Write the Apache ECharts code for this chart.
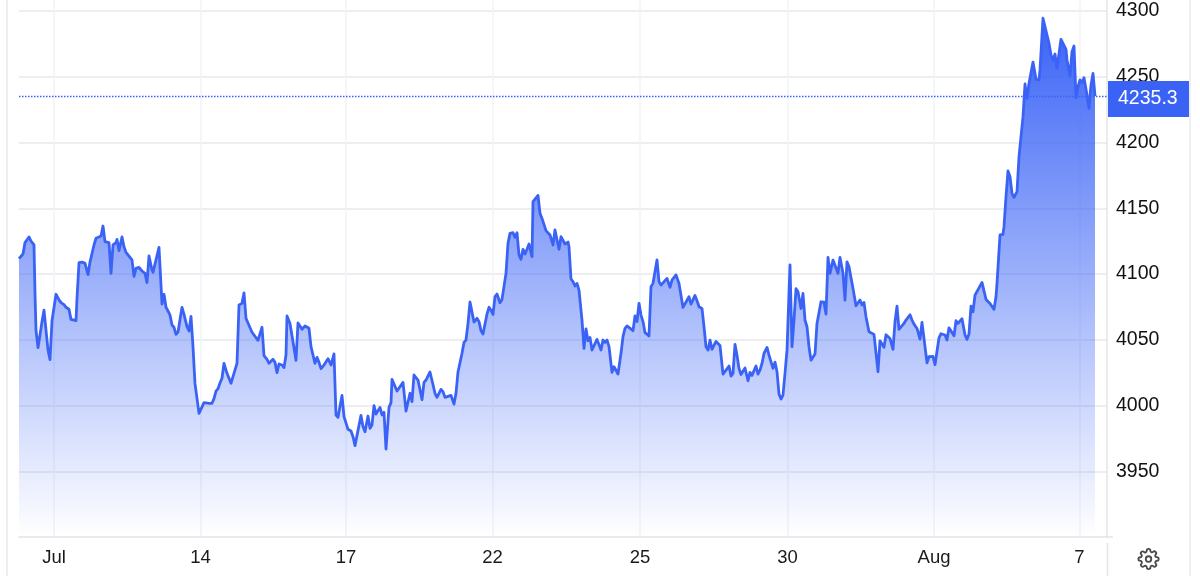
<!DOCTYPE html>
<html>
<head>
<meta charset="utf-8">
<style>html,body{margin:0;padding:0;background:#fff}#c{width:1200px;height:576px}</style>
<script src="https://cdn.jsdelivr.net/npm/echarts@6/dist/echarts.min.js"></script>
</head>
<body>
<div id="c"></div>
<script>
const timeIndex = [0,2,4,6,8,10,12,15,16,17,19,21,23,25,27,29,31,33,35,37,40,42,45,47,50,52,54,57,58,60,63,66,69,71,73,75,77,79,82,84,86,88,90,92,94,97,98,100,103,105,107,109,113,115,117,120,123,126,128,130,133,134,136,140,143,145,147,149,151,153,155,157,159,163,165,168,170,172,174,176,178,180,182,185,187,190,193,195,197,199,201,203,205,208,212,214,216,218,220,223,225,227,229,231,233,235,239,243,245,248,250,254,256,258,260,263,265,267,268,271,273,277,279,283,286,290,292,296,298,300,302,305,307,309,312,314,315,317,319,323,325,329,332,334,336,
342,344,346,349,351,353,355,357,359,361,363,365,367,370,372,373,378,380,384,387,389,391,393,395,397,399,403,405,407,411,413,416,418,420,422,424,426,428,432,435,437,439,441,443,445,447,449,451,455,458,460,462,464,466,468,470,472,474,476,478,481,483,485,487,489,491,494,496,498,500,502,504,506,508,510,512,513,514,516,519,521,523,527,531,534,536,538,540,542,546,549,550,552,554,556,558,560,563,565,567,569,571,573,578,580,582,584,586,588,590,593,595,597,599,602,604,606,608,610,614,616,618,620,622,624,626,628,630,632,634,638,640,642,644,648,651,653,657,660,
664,670,672,676,679,680,683,685,687,689,691,693,697,699,701,704,710,712,714,716,718,720,722,726,729,731,733,737,739,741,743,745,748,750,754,756,758,760,762,764,766,768,771,773,775,777,779,782,784,786,788,790,792,796,798,800,802,805,807,809,811,814,819,821,824,826,828,830,834,837,839,841,843,845,847,850,852,855,859,861,865,867,871,874,876,878,880,882,885,887,889,891,893,895,898,901,903,908,910,914,916,920,922,926,928,930,932,935,937,939,943,946,948,950,952,954,956,958,963,967,971,975,977,
978,981,984,985,987,989,991,993,995,998,1000,1002,1004,1006,1008,1010,1014,1017,1020,1021,1024,1026,1030,1032,1034,1036,1038,1042,1047,1048,1051,1053,1055,1057,1059,1061,1063,1065,1068,1070,1072,1074,1076];
const prices = [4111.7,4112.2,4115.2,4123.9,4125.4,4128.2,4125.1,4122.1,4085.3,4057.4,4044,4053.6,4063.8,4072.6,4071.9,4042.2,4034.9,4064.5,4065.5,4084.6,4080.3,4078.2,4076.7,4074.7,4073.2,4065.5,4064.5,4064.5,4081.5,4108.6,4109.1,4108.1,4099.5,4109.1,4108.9,4122.1,4127.2,4127.9,4128.9,4136.5,4124.6,4123.3,4123.9,4100.5,4122.1,4123.9,4126.4,4117.8,4128.2,4120.8,4116.5,4117,4110.7,4098.2,4104.3,4105.1,4102.3,4100.5,4093.4,4113.7,4103.1,4101.3,4101.8,4120.3,4077.2,4084.6,4074.7,4071.9,4068.8,4061.2,4059.5,4054.1,4055.9,4074.7,4069.3,4060,4056.7,4067.8,4044.8,4016.6,4016.4,3994,3993.8,4002.2,4002.9,4001.7,4001.7,4005.2,4011,4012.8,4017.1,4020.7,4032.1,4024.5,4016.9,4022,4022.7,4032.1,4076.4,4077.7,4085.6,4066.3,4062.8,4062.5,4055.7,4055.9,4049.6,4059.5,4037.9,4035.1,4032.1,4035.1,4032.8,4025,4031.6,4030.8,4028.8,4038.4,4068.1,4062.3,4061.5,4034.4,4062.8,4058,4060.5,4058.7,4044.8,4032.1,4036.6,4032.8,4028,4030.8,4031.6,4035.6,4030.8,4030,4039.2,3992.8,3991,4007.7,3991.5,3981.9,3980.6,3976.3,3969.5,
3992.5,3983.9,3980.1,3992,3982.6,3985.2,3999.9,3993.5,3994.5,3998.6,3992.8,3994.8,3966.9,3998.6,4002.2,4019.9,4011,4011.8,4017.6,3995.8,3996.1,4009.3,4002.9,4023.2,4024.7,4019.4,4004.4,4017.6,4019.4,4025.5,4025.7,4009.3,4006.2,4006.7,4012.3,4010.5,4006.2,4007.7,4007.7,4001.1,4009.3,4025.5,4025,4039.7,4048,4049.8,4062.5,4078.7,4063.5,4066.3,4063.8,4056.9,4054.4,4053.6,4069.6,4074.7,4072.6,4069.3,4082.8,4084.8,4078.2,4080.7,4081.3,4100.5,4123.3,4130.9,4131.4,4127.9,4131.4,4114.5,4111.2,4118.8,4115.2,4118.8,4122.8,4122.8,4113.2,4155,4153.8,4159.8,4146.2,4142.3,4133,4129.7,4122.1,4133.5,4133,4118.8,4128.4,4122.8,4124.3,4120.8,4096.2,4094.2,4090.9,4092.9,4087.8,4065,4043.5,4058.2,4049.3,4051.8,4042.2,4050.3,4049.8,4042.2,4049.8,4048,4049.8,4044.8,4025.2,4029.5,4028.3,4024,4039.7,4052.4,4058.7,4060.5,4060.5,4056.9,4068.1,4063.8,4077.7,4068.8,4063.8,4055.4,4054.4,4052.9,4090.4,4092.9,4110.7,4094.2,4091.6,4090.4,4096.7,4089.9,4095.4,4099.3,4092.8,
4074.6,4082.7,4077.1,4083.7,4077.6,4075.1,4073.8,4059.9,4044.7,4042.1,4049.7,4042.7,4048.7,4047.7,4045.7,4023.9,4030,4022.4,4024.4,4046.5,4038.3,4028.2,4023.6,4028.5,4018.8,4025.2,4022.9,4030,4023.9,4026.9,4032,4039.6,4044.2,4038.3,4028.2,4033,4025.7,4008.7,4004.9,4007.9,4024.4,4042.1,4107,4044.7,4065,4088.8,4086.5,4073.8,4085.2,4065,4059.9,4044.7,4034.5,4039.1,4062.4,4063.9,4078.9,4078.6,4069.5,4112.6,4100.5,4110.6,4100.5,4112.6,4100.5,4080.2,4109.3,4105.5,4089,4075.9,4075.1,4080.2,4076.4,4078.4,4067.5,4056.1,4054.8,4054.1,4025.7,4049.2,4044.2,4053.8,4051,4042.7,4063.7,4075.6,4057.9,4056.8,4062.4,4065,4065,4069,4065,4061.9,4058.6,4050.5,4063.2,4032.5,4037.1,4037.3,4031,4051.5,4054.6,4053.6,4049.8,4059.1,4059.4,4053,4064.5,4062.4,4066,4053.6,4050.3,4054.3,4075.6,4071.3,4084,4084.5,4093.6,4080.7,4077.6,4073.1,4082.7,
4092.9,4129.7,4130.2,4136,4158.8,4178.4,4174,4161.4,4158.3,4162.6,4189.3,4190,4219.7,4244.5,4233.6,4245,4261.2,4248.1,4247.6,4255.2,4294.5,4293.2,4275.4,4266.6,4262.8,4267.3,4256.4,4278.5,4270.9,4262.8,4250.6,4269.1,4273.4,4234.1,4242.5,4247.6,4245.5,4249.3,4236.2,4226,4243.8,4252.6,4235.3];
const xTickIndex = [35,181.5,327,473.5,621,768.5,915,1060.5];
const xTickLabels = ['Jul','14','17','22','25','30','Aug','7'];
const yTicks = [3950,4000,4050,4100,4150,4200,4250,4300];
const lastPrice = 4235.3;

const FONT = '"Liberation Sans", Arial, sans-serif';
const BLUE = '#3a63f6';
const chart = echarts.init(document.getElementById('c'), null, {renderer:'canvas'});
const gear = 'M12 15a3 3 0 1 0 0-6 3 3 0 0 0 0 6zM19.4 15a1.65 1.65 0 0 0 .33 1.82l.06.06a2 2 0 0 1 0 2.83 2 2 0 0 1-2.83 0l-.06-.06a1.65 1.65 0 0 0-1.82-.33 1.65 1.65 0 0 0-1 1.51V21a2 2 0 0 1-2 2 2 2 0 0 1-2-2v-.09A1.65 1.65 0 0 0 9 19.4a1.65 1.65 0 0 0-1.82.33l-.06.06a2 2 0 0 1-2.83 0 2 2 0 0 1 0-2.83l.06-.06a1.65 1.65 0 0 0 .33-1.82 1.65 1.65 0 0 0-1.51-1H3a2 2 0 0 1-2-2 2 2 0 0 1 2-2h.09A1.65 1.65 0 0 0 4.6 9a1.65 1.65 0 0 0-.33-1.82l-.06-.06a2 2 0 0 1 0-2.83 2 2 0 0 1 2.83 0l.06.06a1.65 1.65 0 0 0 1.82.33H9a1.65 1.65 0 0 0 1-1.51V3a2 2 0 0 1 2-2 2 2 0 0 1 2 2v.09a1.65 1.65 0 0 0 1 1.51 1.65 1.65 0 0 0 1.82-.33l.06-.06a2 2 0 0 1 2.83 0 2 2 0 0 1 0 2.83l-.06.06a1.65 1.65 0 0 0-.33 1.82V9a1.65 1.65 0 0 0 1.51 1H21a2 2 0 0 1 2 2 2 2 0 0 1-2 2h-.09a1.65 1.65 0 0 0-1.51 1z';
echarts.graphic.registerShape('gearIcon', echarts.graphic.extendPath(gear, {}));
const vline = (x,y1,y2,c)=>({type:'line',silent:true,shape:{x1:x,y1:y1,x2:x,y2:y2},style:{stroke:c,lineWidth:1.5}});

chart.setOption({
  animation:false,
  backgroundColor:'#fff',
  grid:{left:19,right:93,top:0,bottom:39,containLabel:false},
  xAxis:{
    type:'value',min:0,max:1088,
    axisLine:{show:true,onZero:false,lineStyle:{color:'#e4e4e8',width:1.5}},
    axisTick:{show:false,customValues:xTickIndex},
    splitLine:{show:true,lineStyle:{color:'#eff3f9',width:1.5}},
    axisLabel:{
      customValues:xTickIndex,margin:11,fontFamily:FONT,fontSize:18.5,color:'#1a1a1a',
      formatter:v=>xTickLabels[xTickIndex.indexOf(v)]
    }
  },
  yAxis:{
    type:'value',position:'right',min:3900,max:4308.4,scale:true,
    axisLine:{show:true,onZero:false,lineStyle:{color:'#e4e4e8',width:1.5}},
    axisTick:{show:false,customValues:yTicks},
    splitLine:{show:true,lineStyle:{color:'#e9e9ec',width:1.5}},
    axisLabel:{customValues:yTicks,margin:9,fontFamily:FONT,fontSize:19.5,color:'#111',formatter:v=>String(v)}
  },
  graphic:[
    vline(7,0,576,'#e8e8ec'),
    vline(1190,0,576,'#e8e8f0'),
    {type:'rect',silent:true,z:5,shape:{x:1105,y:537.8,width:4,height:5},style:{fill:'#fff'}},
    {type:'line',silent:true,z:6,shape:{x1:1107,y1:537,x2:1113,y2:537},style:{stroke:'#e4e4e8',lineWidth:1.5}},
    vline(1107.5,543,576,'#e4e4e8'),
    {type:'gearIcon',silent:true,x:1137.5,y:548,scaleX:0.92,scaleY:0.92,
     style:{fill:'none',stroke:'#4a4a4a',lineWidth:2}}
  ],
  series:[{
    type:'line',
    data:timeIndex.map((t,i)=>[t,prices[i]]),
    showSymbol:false,symbol:'none',
    smooth:false,
    lineStyle:{color:BLUE,width:2.8,join:'round'},
    areaStyle:{origin:'start',opacity:1,color:new echarts.graphic.LinearGradient(0,0,0,1,[
      {offset:0,color:'rgba(58,99,246,1)'},
      {offset:1,color:'rgba(58,99,246,0)'}
    ])},
    markLine:{
      silent:true,symbol:'none',animation:false,
      lineStyle:{color:BLUE,type:[1.5,1.5],width:1.3},
      label:{
        show:true,position:'end',distance:0,offset:[1,3],
        formatter:()=>lastPrice.toFixed(1),
        fontFamily:FONT,fontSize:19.5,color:'#fff',
        backgroundColor:BLUE,width:61,align:'left',padding:[8,10,8,10],lineHeight:20
      },
      data:[{yAxis:lastPrice}]
    }
  }]
});
</script>
</body>
</html>
